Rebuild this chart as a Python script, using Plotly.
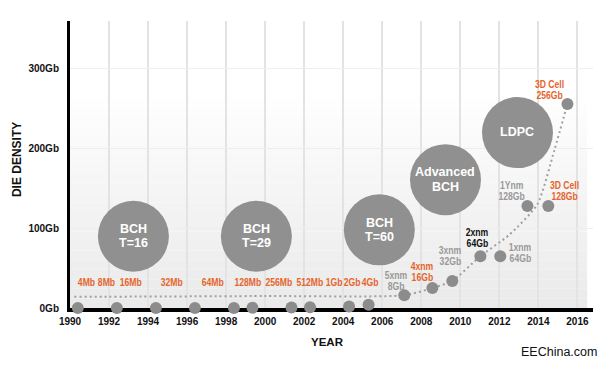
import plotly.graph_objects as go

# ---------------- data ----------------
y_tick_vals = [0, 100, 200, 300]
y_tick_text = ["0Gb", "100Gb", "200Gb", "300Gb"]
x_tick_vals = list(range(1990, 2017, 2))

# early generations (dots on the axis)
early_years = [1990.4, 1992.4, 1994.4, 1996.4, 1998.4, 1999.35, 2001.35, 2002.3, 2004.3, 2005.3]
early_gb = [0.004, 0.016, 0.032, 0.064, 0.128, 0.256, 0.512, 1, 2, 4]
early_labels = ["4Mb", "8Mb", "16Mb", "32Mb", "64Mb", "128Mb", "256Mb", "512Mb", "1Gb", "2Gb", "4Gb"]
early_label_years = [1990.84, 1991.86, 1993.09, 1995.19, 1997.29, 1999.14, 2000.73, 2002.32, 2003.55, 2004.47, 2005.39]
early_label_level = 32.6

# later generations
late_years = [2007.13, 2008.57, 2009.59, 2011.03, 2012.05, 2013.44, 2014.51, 2015.49]
late_gb = [16, 25, 34, 65, 65, 128, 128, 256]
late_node = ["5xnm", "4xnm", "3xnm", "2xnm", "1xnm", "1Ynm", "3D Cell", "3D Cell"]
late_size = ["8Gb", "16Gb", "32Gb", "64Gb", "64Gb", "128Gb", "128Gb", "256Gb"]
late_kind = ["gray", "orange", "gray", "black", "gray", "gray", "orange", "orange"]

# dotted trend
trend_years = [1990.22, 2000.0, 2007.13, 2008.57, 2009.59, 2011.03, 2012.52, 2013.95, 2014.82, 2015.49]
trend_gb = [14, 15, 16, 25, 34, 65, 92, 130, 198, 256]

# ECC bubbles
bubble_years = [1993.25, 1999.55, 2005.85, 2009.24, 2012.93]
bubble_gb = [90, 90, 98, 161, 220]
bubble_text = [["BCH", "T=16"], ["BCH", "T=29"], ["BCH", "T=60"], ["Advanced", "BCH"], ["LDPC"]]

# ---------------- style / layout ----------------
NARROW = "Liberation Sans, Arimo, sans-serif"   # condensed via CSS below
SANS = "Liberation Sans, Arial, Helvetica, sans-serif"
COL = {"gray": "#999999", "orange": "#e5652c", "black": "#111111"}
DOT = "#8c8c8c"
BUBBLE = "#909090"
# label offsets (px) relative to each later point: dx, line1 yshift, line2 yshift
late_offsets = [(-8, 20.5, 9.5), (-10, 22.5, 11.5), (-2, 30.5, 19.5), (-3, 24.5, 13.5),
                (20, 9.5, -1.5), (-16, 20.5, 9.5), (16, 20.5, 9.5), (-18, 19.5, 8.5)]


def nfont(size, color):
    return dict(family=NARROW, size=size, color=color, weight="bold")


fig = go.Figure()

# background gradient bands
n_bands = 30
for i in range(n_bands):
    y0 = 360 * i / n_bands
    y1 = 360 * (i + 1) / n_bands
    t = (i + 0.5) / n_bands
    c = int(234 + (255 - 234) * min(1, t * 1.35))
    fig.add_shape(type="rect", xref="x", yref="y", x0=1990, x1=2016.5, y0=y0, y1=y1,
                  fillcolor=f"rgb({c},{c},{c})", line_width=0, layer="below")

# bubbles
fig.add_trace(go.Scatter(x=bubble_years, y=bubble_gb, mode="markers",
                         marker=dict(size=71, color=BUBBLE, line_width=0),
                         hoverinfo="skip", showlegend=False))

# trend line
fig.add_trace(go.Scatter(x=trend_years, y=trend_gb, mode="lines",
                         line=dict(color="#a0a0a0", width=2, dash="2px,3px", shape="spline", smoothing=0.6),
                         hoverinfo="skip", showlegend=False))

# dots
fig.add_trace(go.Scatter(x=early_years + late_years, y=early_gb + late_gb, mode="markers",
                         marker=dict(size=12, color=DOT, line_width=0), cliponaxis=False,
                         hoverinfo="skip", showlegend=False))

ann = []
for xv, t in zip(early_label_years, early_labels):
    ann.append(dict(x=xv, y=early_label_level, text=t, showarrow=False, xanchor="center", yanchor="middle",
                    font=nfont(11.5, COL["orange"])))

for xv, yv, a, b, k, (dx, s1, s2) in zip(late_years, late_gb, late_node, late_size, late_kind, late_offsets):
    for txt, s in ((a, s1), (b, s2)):
        ann.append(dict(x=xv, y=yv, text=txt, showarrow=False, xanchor="center", yanchor="middle",
                        xshift=dx, yshift=s, font=nfont(11.5, COL[k])))

for xv, yv, lines in zip(bubble_years, bubble_gb, bubble_text):
    if len(lines) == 1:
        shifts = [1]
    elif lines[0] == "Advanced":
        shifts = [7.5, -7.5]
    else:
        shifts = [7, -7]
    for txt, s in zip(lines, shifts):
        ann.append(dict(x=xv, y=yv, text=txt, showarrow=False, xanchor="center", yanchor="middle",
                        yshift=s, font=dict(family=SANS, size=12.5, color="white", weight="bold")))

# axis titles and watermark
ann.append(dict(xref="paper", yref="paper", x=-0.101, y=0.516, text="DIE DENSITY", textangle=-90,
                showarrow=False, xanchor="center", yanchor="middle",
                font=dict(family=SANS, size=12, color="#111111", weight="bold")))
ann.append(dict(xref="paper", yref="paper", x=0.493, y=-0.1185, text="YEAR",
                showarrow=False, xanchor="center", yanchor="middle",
                font=dict(family=SANS, size=11.5, color="#111111", weight="bold")))
ann.append(dict(xref="paper", yref="paper", x=0.935, y=-0.153, text="EEChina.com",
                showarrow=False, xanchor="center", yanchor="middle",
                font=dict(family=SANS, size=12.5, color="#111111")))

fig.update_layout(
    width=602, height=365,
    margin=dict(l=70, r=9, t=21, b=57, autoexpand=False),
    paper_bgcolor="white", plot_bgcolor="white",
    annotations=ann,
    xaxis=dict(range=[1990, 2016.8], tickvals=x_tick_vals, ticktext=[str(v) for v in x_tick_vals],
               showgrid=True, gridcolor="#e3e3e3", gridwidth=1.5, zeroline=False,
               showline=True, linecolor="black", linewidth=4, ticks="", ticklabelstandoff=1,
               layer="below traces", automargin=False,
               tickfont=dict(family=SANS, size=10, color="#111111", weight="bold")),
    yaxis=dict(range=[0, 360], tickvals=y_tick_vals, ticktext=y_tick_text,
               showgrid=True, gridcolor="#eeeeee", gridwidth=1, zeroline=False,
               showline=True, linecolor="black", linewidth=3, ticks="", ticklabelstandoff=6,
               layer="below traces", automargin=False,
               tickfont=dict(family=SANS, size=10, color="#111111", weight="bold")),
)

post = (
    "document.body.style.margin='0';document.body.style.padding='0';"
    "var st=document.createElement('style');"
    "st.textContent='text.annotation-text[style*=\"Arimo\"]{transform:scaleX(0.75);"
    "transform-box:fill-box;transform-origin:center;}';"
    "document.head.appendChild(st);"
)
fig.write_html("out.html", post_script=post, config={"displayModeBar": False})
